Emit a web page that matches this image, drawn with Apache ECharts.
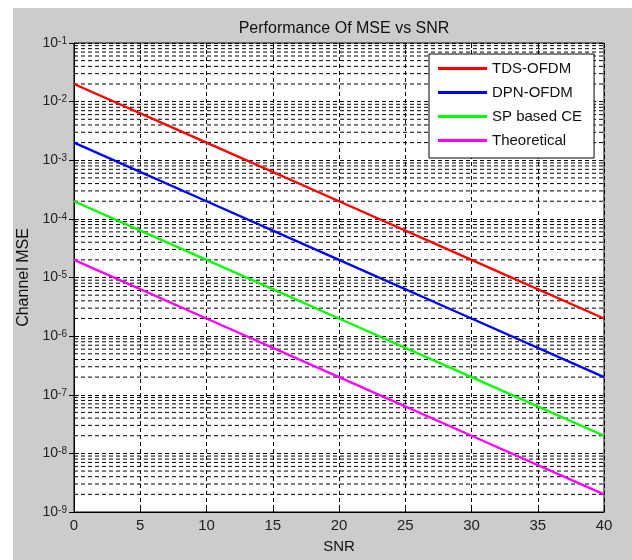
<!DOCTYPE html>
<html>
<head>
<meta charset="utf-8">
<script src="https://cdn.jsdelivr.net/npm/echarts@6/dist/echarts.min.js"></script>
<style>
html,body{margin:0;padding:0;background:#fff;}
#bg{position:absolute;left:13px;top:8px;width:619px;height:552px;background:#cccccc;}
#chart{position:absolute;left:0;top:0;width:632px;height:560px;}
</style>
</head>
<body>
<div id="bg"></div>
<div id="chart"></div>
<script>
// ---- data ----
const snr = [0, 10, 20, 30, 40];
const tdsOfdm = [2e-2, 2e-3, 2e-4, 2e-5, 2e-6];
const dpnOfdm = [2e-3, 2e-4, 2e-5, 2e-6, 2e-7];
const spBasedCe = [2e-4, 2e-5, 2e-6, 2e-7, 2e-8];
const theoretical = [2e-5, 2e-6, 2e-7, 2e-8, 2e-9];
const seriesNames = ['TDS-OFDM', 'DPN-OFDM', 'SP based CE', 'Theoretical'];
const yDecades = [-9, -8, -7, -6, -5, -4, -3, -2, -1];
const minorMultipliers = [2, 3, 4, 5, 6, 7, 8, 9];

const colors = ['#ff0000', '#0000ff', '#00ff00', '#ff00ff'];
const values = [tdsOfdm, dpnOfdm, spBasedCe, theoretical];

const font = "'Liberation Sans', Arial, Helvetica, sans-serif";
const dash = [4, 3];

// minor log grid lines (2..9 x 10^k), drawn as flat line series through the axes
const gridSeries = [];
for (let i = 0; i < yDecades.length - 1; i++) {
  for (const m of minorMultipliers) {
    const v = m * Math.pow(10, yDecades[i]);
    gridSeries.push({
      name: '__g' + i + '_' + m,
      type: 'line',
      data: [[snr[0], v], [snr[snr.length - 1], v]],
      symbol: 'none',
      silent: true,
      z: 1,
      animation: false,
      lineStyle: { color: '#000', type: dash, width: 1 },
      emphasis: { disabled: true },
      tooltip: { show: false }
    });
  }
}

const chart = echarts.init(document.getElementById('chart'), null, { renderer: 'canvas' });

const yLabelFmt = function (v) {
  const e = Math.round(Math.log10(v));
  return '{b|10}{s|' + e + '}';
};

const lineSeries = seriesNames.map((name, i) => ({
  name: name,
  type: 'line',
  data: snr.map((x, j) => [x, values[i][j]]),
  symbol: 'none',
  z: 5,
  lineStyle: { color: colors[i], width: 2.4 },
  itemStyle: { color: colors[i] },
  animation: false
}));

const option = {
  backgroundColor: 'transparent',
  animation: false,
  title: {
    text: 'Performance Of MSE vs SNR',
    left: 339,
    textAlign: 'center',
    top: 16,
    textStyle: { fontFamily: font, fontSize: 16, fontWeight: 'normal', color: '#111' }
  },
  legend: {
    data: seriesNames,
    orient: 'vertical',
    left: 429,
    top: 54,
    z: 10,
    icon: 'rect',
    itemWidth: 49,
    itemHeight: 3,
    itemGap: 9,
    padding: [7, 12, 10, 9],
    backgroundColor: '#ffffff',
    borderColor: '#000',
    borderWidth: 1,
    textStyle: { fontFamily: font, fontSize: 15, color: '#111' }
  },
  grid: {
    left: 74, top: 43, right: 28, bottom: 48,
    show: true,
    backgroundColor: '#ffffff',
    borderColor: '#000',
    borderWidth: 1
  },
  xAxis: [{
    type: 'value',
    min: 0, max: 40, interval: 5,
    name: 'SNR',
    nameLocation: 'middle',
    nameGap: 27,
    nameTextStyle: { fontFamily: font, fontSize: 15, color: '#111' },
    axisLine: { show: true, lineStyle: { color: '#000', width: 1 } },
    axisTick: { show: true, inside: true, length: 5, lineStyle: { color: '#000' } },
    axisLabel: { fontFamily: font, fontSize: 15, color: '#222', margin: 6 },
    splitLine: { show: true, lineStyle: { color: '#000', type: dash, width: 1 } }
  }, {
    type: 'value',
    position: 'top',
    min: 0, max: 40, interval: 5,
    axisLine: { show: false },
    axisTick: { show: true, inside: true, length: 5, lineStyle: { color: '#000' } },
    axisLabel: { show: false },
    splitLine: { show: false }
  }],
  yAxis: [{
    type: 'log',
    logBase: 10,
    min: 1e-9, max: 1e-1,
    name: 'Channel MSE',
    nameLocation: 'middle',
    nameRotate: 90,
    nameGap: 41,
    nameTextStyle: { fontFamily: font, fontSize: 16, color: '#111' },
    axisLine: { show: true, lineStyle: { color: '#000', width: 1 } },
    axisTick: { show: true, inside: true, length: 5, lineStyle: { color: '#000' } },
    axisLabel: {
      margin: 7,
      formatter: yLabelFmt,
      rich: {
        b: { fontFamily: font, fontSize: 14, color: '#222', lineHeight: 14, padding: [8, 0, 0, 0], verticalAlign: 'bottom' },
        s: { fontFamily: font, fontSize: 10, color: '#222', lineHeight: 10, verticalAlign: 'top' }
      }
    },
    splitLine: { show: true, lineStyle: { color: '#000', type: dash, width: 1 } }
  }, {
    type: 'log',
    logBase: 10,
    position: 'right',
    min: 1e-9, max: 1e-1,
    axisLine: { show: false },
    axisTick: { show: true, inside: true, length: 5, lineStyle: { color: '#000' } },
    axisLabel: { show: false },
    splitLine: { show: false }
  }],
  series: gridSeries.concat(lineSeries)
};

chart.setOption(option);
</script>
</body>
</html>
